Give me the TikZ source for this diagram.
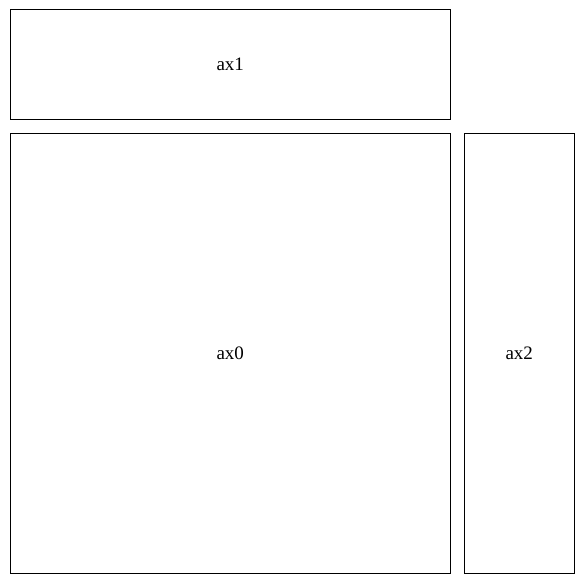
\documentclass[tikz,border=0pt]{standalone}
\usepackage{fontspec}
\setmainfont{Liberation Serif}
\usepackage{tikz}
\usetikzlibrary{positioning}

\begin{document}
\begin{tikzpicture}[x=1pt, y=-1pt]
	\tikzstyle{panel} = [rectangle, draw=black, line width=0.8pt, inner sep=0pt,
	outer sep=0pt, text centered, font=\fontsize{19}{22}\selectfont]
	\useasboundingbox (0,0) rectangle (583,583);
	\node (ax1) [panel, minimum width=440.5pt, minimum height=109.5pt] at (230.25,64.25) {ax1};
	\node (ax0) [panel, minimum width=440.5pt, minimum height=439.5pt, below=14.5pt of ax1] {ax0};
	\node (ax2) [panel, minimum width=110.5pt, minimum height=439.5pt, right=13.5pt of ax0] {ax2};
\end{tikzpicture}
\end{document}
